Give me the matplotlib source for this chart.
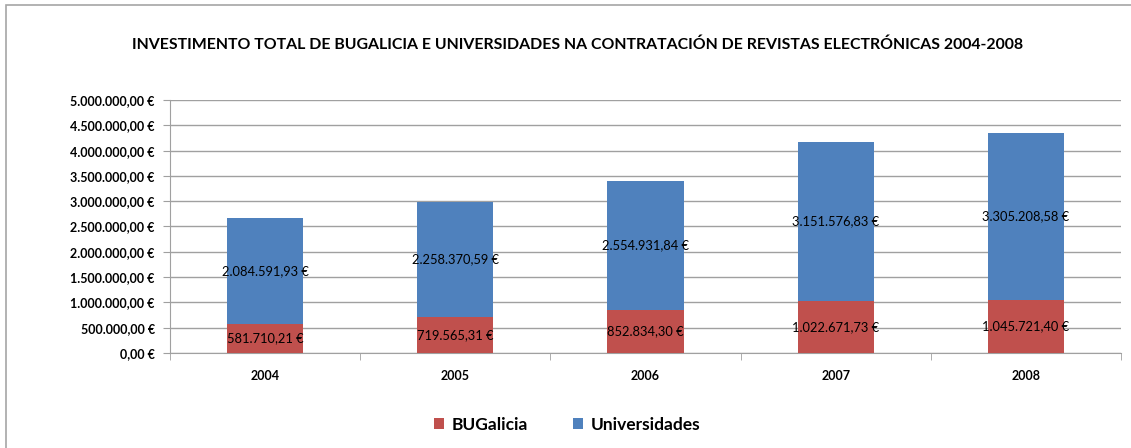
import numpy as np
import matplotlib.pyplot as plt
from matplotlib.patches import Rectangle
from matplotlib.ticker import FuncFormatter, FixedLocator

years = ['2004', '2005', '2006', '2007', '2008']
bugalicia = [581710.21, 719565.31, 852834.30, 1022671.73, 1045721.40]
universidades = [2084591.93, 2258370.59, 2554931.84, 3151576.83, 3305208.58]

red = '#C0504D'
blue = '#4F81BD'

plt.rcParams['font.family'] = ['Lato', 'DejaVu Sans']


def euro(v, pos=None):
    s = f"{v:,.2f}"
    s = s.replace(',', 'X').replace('.', ',').replace('X', '.')
    return s + '\u00a0€'


fig = plt.figure(figsize=(11.31, 4.48), dpi=100)
fig.patches.append(Rectangle((6 / 1131, -0.1), 1.2, (448 - 5) / 448 + 0.1,
                             transform=fig.transFigure, fill=False,
                             edgecolor='#a6a6a6', linewidth=1.2))

ax = fig.add_axes([170 / 1131, 1 - 353 / 448, (1121 - 170) / 1131, (353 - 100) / 448])

x = np.arange(len(years))
w = 0.4
ax.bar(x, bugalicia, w, color=red, label='BUGalicia', zorder=3)
ax.bar(x, universidades, w, bottom=bugalicia, color=blue, label='Universidades', zorder=3)

for i in range(len(years)):
    ax.text(x[i], bugalicia[i] / 2, euro(bugalicia[i]), ha='center', va='center',
            fontsize=9.3, color='black', zorder=4)
    ax.text(x[i], bugalicia[i] + universidades[i] / 2, euro(universidades[i]),
            ha='center', va='center', fontsize=9.3, color='black', zorder=4)

ax.set_xlim(-0.5, len(years) - 0.5)
ax.set_ylim(0, 5000000)
ax.set_yticks(np.arange(0, 5000001, 500000))
ax.yaxis.set_major_formatter(FuncFormatter(euro))
ax.grid(axis='y', color='#a0a0a0', linewidth=1, zorder=0)
ax.set_xticks(x)
ax.set_xticklabels(years)
ax.xaxis.set_minor_locator(FixedLocator(np.arange(-0.5, len(years), 1)))
ax.tick_params(axis='x', which='major', length=0, pad=12, labelsize=9)
ax.tick_params(axis='x', which='minor', length=5, color='#a0a0a0', direction='out')
ax.tick_params(axis='y', length=5, color='#a0a0a0', labelsize=9, pad=6)
for lab in ax.get_xticklabels() + ax.get_yticklabels():
    lab.set_fontweight('bold')
for side in ['top', 'right']:
    ax.spines[side].set_visible(False)
for side in ['left', 'bottom']:
    ax.spines[side].set_color('#a0a0a0')

fig.text(578 / 1131, 1 - 45 / 448,
         'INVESTIMENTO TOTAL DE BUGALICIA E UNIVERSIDADES NA CONTRATACIÓN DE REVISTAS ELECTRÓNICAS 2004-2008',
         ha='center', va='center', fontsize=11.4, fontweight='bold')

leg = fig.legend(loc='center', bbox_to_anchor=(567 / 1131, 1 - 425 / 448), ncol=2,
                 frameon=False, handlelength=0.6, handleheight=0.6,
                 columnspacing=2.6, handletextpad=0.4,
                 prop={'weight': 'bold', 'size': 12.5})

fig.savefig('out.png', dpi=100)
